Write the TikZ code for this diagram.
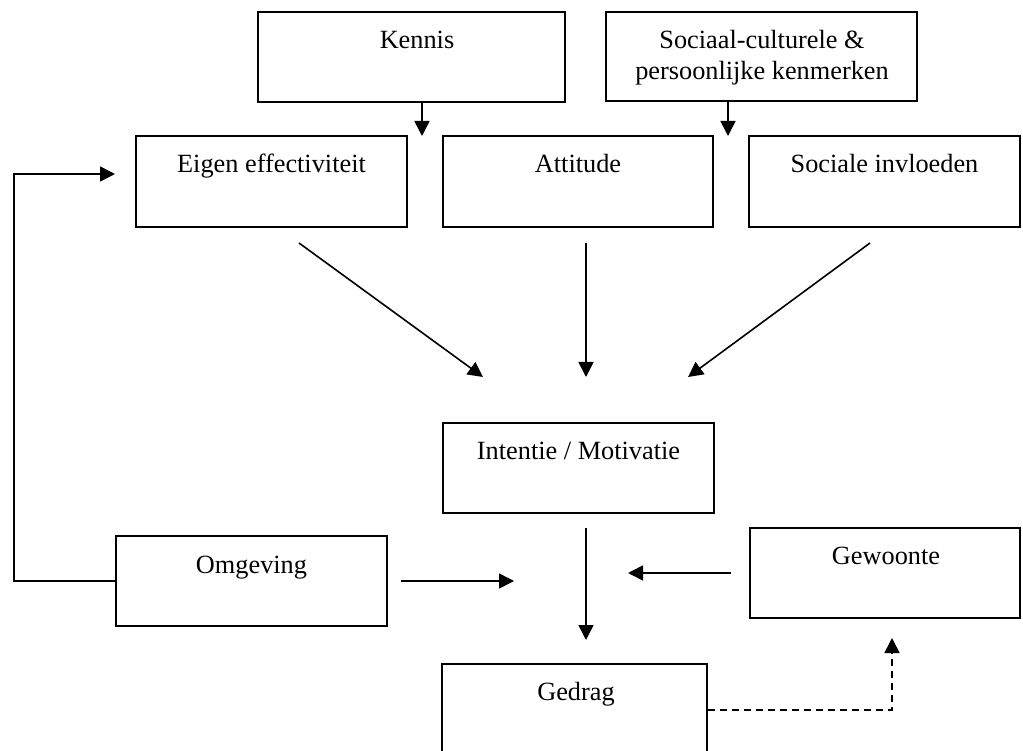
\documentclass[tikz,border=0pt]{standalone}
\usepackage{fontspec}
\setmainfont{Liberation Serif}
\usetikzlibrary{arrows.meta}
\begin{document}
\begin{tikzpicture}[x=1pt,y=-1pt,
  box/.style={draw=black, line width=2pt, rectangle, inner sep=0pt},
  txt/.style={anchor=base, inner sep=0pt, font=\fontsize{26.3pt}{31pt}\selectfont},
  arr/.style={line width=1.6pt, -{Triangle[length=15pt,width=15pt]}},
  dasharr/.style={arr, dash pattern=on 7pt off 5pt}]
\useasboundingbox (0,0) rectangle (1023,751);
\fill[white] (0,0) rectangle (1023,751);
% boxes
\node[box, minimum width=307pt, minimum height=90pt] (kennis) at (411.5,57) {};
\node[box, minimum width=311pt, minimum height=89pt] (soc) at (761.5,56.5) {};
\node[box, minimum width=271pt, minimum height=91pt] (eigen) at (271.5,181.5) {};
\node[box, minimum width=270pt, minimum height=91pt] (att) at (578,181.5) {};
\node[box, minimum width=271pt, minimum height=91pt] (socinv) at (884.5,181.5) {};
\node[box, minimum width=271pt, minimum height=90pt] (intentie) at (578.5,468) {};
\node[box, minimum width=271pt, minimum height=90pt] (omg) at (251.5,581) {};
\node[box, minimum width=270pt, minimum height=90pt] (gew) at (885,573) {};
\node[box, minimum width=265pt, minimum height=90pt] (gedrag) at (574.5,709) {};
% texts
\node[txt] (kennist) at (417,49) {Kennis};
\node[txt] (soct1) at (762,49) {Sociaal-culturele \&};
\node[txt] (soct2) at (762,80) {persoonlijke kenmerken};
\node[txt] (eigent) at (271.5,173) {Eigen effectiviteit};
\node[txt] (attt) at (578,173) {Attitude};
\node[txt] (socinvt) at (884.5,173) {Sociale invloeden};
\node[txt] (intentiet) at (578.5,459) {Intentie / Motivatie};
\node[txt] (omgt) at (251.5,573) {Omgeving};
\node[txt] (gewt) at (886,564) {Gewoonte};
\node[txt] (gedragt) at (576,700) {Gedrag};
% coordinates
\coordinate (ktip) at (422,136);
\coordinate (stip) at (728,136);
\coordinate (e1) at (299,243);
\coordinate (e2) at (483,377);
\coordinate (a1) at (586,243);
\coordinate (a2) at (586,377);
\coordinate (s1) at (870,243);
\coordinate (s2) at (688,377);
\coordinate (i1) at (586,528);
\coordinate (i2) at (586,640);
\coordinate (o1) at (401,581);
\coordinate (o2) at (514,581);
\coordinate (g1) at (731,573);
\coordinate (g2) at (628,573);
\coordinate (fb1) at (14,581);
\coordinate (fb2) at (14,174);
\coordinate (fb3) at (115,174);
\coordinate (d1) at (892,710);
\coordinate (d2) at (892,638);
% connectors
\draw[arr] (kennis.south -| ktip) -- (ktip);
\draw[arr] (soc.south -| stip) -- (stip);
\draw[arr] (e1) -- (e2);
\draw[arr] (a1) -- (a2);
\draw[arr] (s1) -- (s2);
\draw[arr] (i1) -- (i2);
\draw[arr] (o1) -- (o2);
\draw[arr] (g1) -- (g2);
\draw[arr] (omg.west) -- (fb1) -- (fb2) -- (fb3);
\draw[dasharr] (gedrag.east |- d1) -- (d1) -- (d2);
\end{tikzpicture}
\end{document}
